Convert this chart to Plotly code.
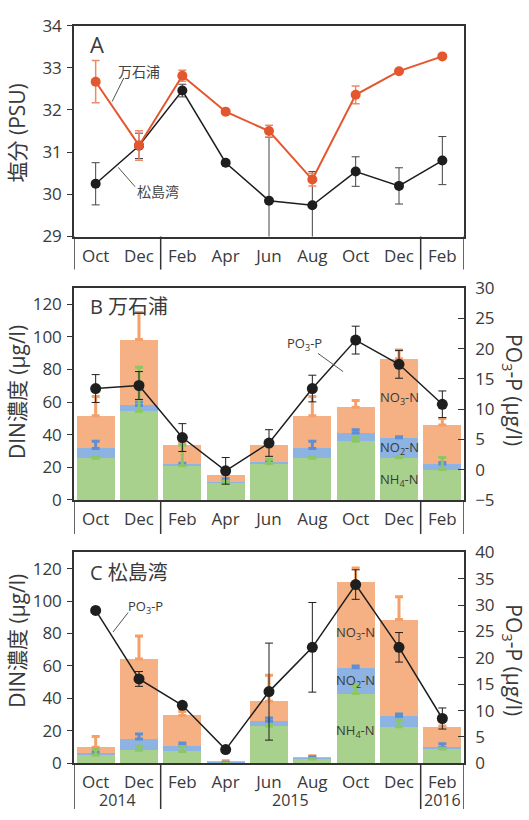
import plotly.graph_objects as go

# ---------------- data ----------------
months = ["Oct", "Dec", "Feb", "Apr", "Jun", "Aug", "Oct", "Dec", "Feb"]
years = ["2014", "2015", "2016"]
year_centers = [0.5, 4.5, 8.0]
xpos = list(range(len(months)))

# Panel A: salinity (PSU)
sal_mangoku = [32.67, 31.16, 32.81, 31.96, 31.50, 30.35, 32.36, 32.92, 33.27]
sal_mangoku_err = [0.50, 0.35, 0.13, 0.05, 0.14, 0.15, 0.21, 0.04, 0.04]
sal_matsu = [30.25, 31.15, 32.46, 30.75, 29.85, 29.74, 30.54, 30.20, 30.80]
sal_matsu_err = [0.50, 0.30, 0.15, 0.04, 1.50, 0.80, 0.35, 0.43, 0.57]

# Panel B: 万石浦 DIN components (ug/l) and PO3-P (ug/l)
b_nh4 = [25.6, 54.4, 21.0, 10.6, 22.4, 25.6, 36.0, 25.8, 18.6]
b_no2 = [6.0, 3.6, 1.0, 0.4, 1.0, 6.0, 5.0, 12.4, 3.4]
b_no3 = [20.0, 40.4, 12.0, 4.4, 10.2, 20.0, 15.8, 48.4, 24.0]
b_nh4_err = [0.8, 27.0, 12.6, 0.8, 2.6, 0.8, 2.5, 0.8, 7.4]
b_no2_err = [4.4, 2.0, 0.5, 2.0, 0.5, 4.4, 2.0, 0.6, 1.0]
b_no3_err = [11.8, 16.6, 1.0, 0.5, 0.5, 11.8, 4.2, 5.4, 4.0]
b_po3 = [13.4, 13.9, 5.3, -0.2, 4.4, 13.4, 21.4, 17.4, 10.8]
b_po3_err = [2.3, 2.3, 2.3, 2.2, 2.2, 2.2, 2.3, 2.3, 2.2]

# Panel C: 松島湾 DIN components (ug/l) and PO3-P (ug/l)
c_nh4 = [5.2, 8.0, 7.3, 0.1, 23.0, 2.6, 43.0, 22.5, 8.8]
c_no2 = [1.2, 7.0, 3.5, 0.5, 3.0, 0.6, 15.9, 6.4, 1.0]
c_no3 = [3.5, 49.3, 18.7, 0.2, 12.2, 0.3, 52.7, 59.7, 12.7]
c_nh4_err = [3.8, 2.5, 3.0, 0.0, 0.5, 0.2, 5.0, 4.0, 0.5]
c_no2_err = [0.5, 3.0, 1.7, 0.1, 2.0, 0.8, 1.1, 1.5, 2.2]
c_no3_err = [6.6, 14.2, 2.5, 0.8, 16.1, 1.2, 8.8, 14.1, 0.5]
c_po3 = [29.0, 16.0, 11.0, 2.6, 13.6, 22.0, 33.9, 22.0, 8.5]
c_po3_err = [0.3, 1.4, 0.5, 0.5, 9.2, 8.5, 2.8, 2.8, 2.0]

# ---------------- style ----------------
W, H = 529, 820
FONT = "Open Sans, Noto Sans CJK JP, sans-serif"
AX = "#333333"
TXT = "#3a3a3a"
C_ORANGE_LINE = "#E4572E"
C_ORANGE_ERR = "#EE8A66"
C_BLACK = "#1e1e1e"
C_NH4 = "#A9D18E"
C_NO2 = "#8DB3E2"
C_NO3 = "#F5B183"
C_NH4_ERR = "#8CC665"
C_NO2_ERR = "#5E8FD4"
C_NO3_ERR = "#F5A06A"

X0, X1 = 74, 464  # plot area left/right (px)
PANELS = {"A": (14, 231, 265), "B": (284, 502, 537), "C": (556, 773, 820)}


def fy(p):
    return 1 - p / H


def fx(p):
    return p / W


fig = go.Figure()

# ---------------- panel A ----------------
fig.add_trace(go.Scatter(
    x=xpos, y=sal_matsu, mode="lines+markers", xaxis="x", yaxis="y",
    line=dict(color=C_BLACK, width=1.5),
    marker=dict(color=C_BLACK, size=10),
    error_y=dict(type="data", array=sal_matsu_err, color="#444444",
                 thickness=1, width=4),
    showlegend=False))
fig.add_trace(go.Scatter(
    x=xpos, y=sal_mangoku, mode="lines+markers", xaxis="x", yaxis="y",
    line=dict(color=C_ORANGE_LINE, width=2),
    marker=dict(color=C_ORANGE_LINE, size=10),
    error_y=dict(type="data", array=sal_mangoku_err, color=C_ORANGE_ERR,
                 thickness=1.5, width=4),
    showlegend=False))


# ---------------- panels B and C ----------------
def add_din(xa, ya, ya2, nh4, no2, no3, nh4_e, no2_e, no3_e, po3, po3_e):
    for vals, col in ((nh4, C_NH4), (no2, C_NO2), (no3, C_NO3)):
        fig.add_trace(go.Bar(x=xpos, y=vals, xaxis=xa, yaxis=ya,
                             marker=dict(color=col, line=dict(width=0)),
                             width=0.88, showlegend=False))
    # upward error bars drawn above the stacks
    tops_nh4 = list(nh4)
    tops_no2 = [a + b for a, b in zip(nh4, no2)]
    tops_no3 = [a + b + c for a, b, c in zip(nh4, no2, no3)]
    for tops, errs, col in ((tops_no3, no3_e, C_NO3_ERR),
                            (tops_no2, no2_e, C_NO2_ERR),
                            (tops_nh4, nh4_e, C_NH4_ERR)):
        fig.add_trace(go.Scatter(
            x=xpos, y=tops, mode="markers", xaxis=xa, yaxis=ya,
            marker=dict(size=1, opacity=0),
            error_y=dict(type="data", symmetric=False, array=errs,
                         arrayminus=[0] * len(errs), color=col,
                         thickness=3, width=4),
            showlegend=False, hoverinfo="skip"))
    fig.add_trace(go.Scatter(
        x=xpos, y=po3, mode="lines+markers", xaxis=xa, yaxis=ya2,
        line=dict(color=C_BLACK, width=1.5),
        marker=dict(color=C_BLACK, size=11),
        error_y=dict(type="data", array=po3_e, color=C_BLACK,
                     thickness=1, width=4),
        showlegend=False))


add_din("x2", "y2", "y3", b_nh4, b_no2, b_no3, b_nh4_err, b_no2_err,
        b_no3_err, b_po3, b_po3_err)
add_din("x3", "y4", "y5", c_nh4, c_no2, c_no3, c_nh4_err, c_no2_err,
        c_no3_err, c_po3, c_po3_err)

# ---------------- axes ----------------
xdom = [fx(X0), fx(X1)]
tickfont = dict(family=FONT, size=17, color=TXT)


def xaxis(anchor):
    return dict(domain=xdom, anchor=anchor, range=[-0.5, 8.5],
                tickmode="array", tickvals=xpos, ticktext=months,
                tickfont=tickfont, ticks="", showgrid=False, zeroline=False,
                showline=True, mirror=True, linecolor=AX, linewidth=1.5,
                ticklabelstandoff=3, fixedrange=True)


def yleft(panel, rng, vals, anchor):
    top, bot, _ = PANELS[panel]
    return dict(domain=[fy(bot), fy(top)], anchor=anchor, range=rng,
                tickmode="array", tickvals=vals, tickfont=tickfont,
                ticks="outside", ticklen=5, tickcolor=AX, tickwidth=1.2,
                showgrid=False, zeroline=False, showline=True, mirror=True,
                linecolor=AX, linewidth=1.5, ticklabelstandoff=2)


def yright(over, anchor, rng, vals):
    return dict(overlaying=over, anchor=anchor, side="right", range=rng,
                tickmode="array", tickvals=vals, tickfont=tickfont,
                ticks="inside", ticklen=6, tickcolor=AX, tickwidth=1.2,
                showgrid=False, zeroline=False, showline=True,
                linecolor=AX, linewidth=1.5, ticklabelstandoff=6)


fig.update_layout(
    width=W, height=H, margin=dict(l=0, r=0, t=0, b=0),
    paper_bgcolor="white", plot_bgcolor="white",
    barmode="stack", bargap=0.12, showlegend=False,
    font=dict(family=FONT, color=TXT),
    xaxis=xaxis("y"), xaxis2=xaxis("y2"), xaxis3=xaxis("y4"),
    yaxis=yleft("A", [29, 34], [29, 30, 31, 32, 33, 34], "x"),
    yaxis2=yleft("B", [0, 130], [0, 20, 40, 60, 80, 100, 120], "x2"),
    yaxis3=yright("y2", "x2", [-5, 30], [-5, 0, 5, 10, 15, 20, 25, 30]),
    yaxis4=yleft("C", [0, 130], [0, 20, 40, 60, 80, 100, 120], "x3"),
    yaxis5=yright("y4", "x3", [0, 40], [0, 5, 10, 15, 20, 25, 30, 35, 40]),
)

# ---------------- category boxes under each panel ----------------
shapes = []
for (panel, xref) in (("A", "x"), ("B", "x2"), ("C", "x3")):
    top, bot, box = PANELS[panel]
    for xs in (-0.5, 1.5, 7.5, 8.5):
        shapes.append(dict(type="line", xref=xref, yref="paper",
                           x0=xs, x1=xs, y0=fy(bot), y1=fy(box),
                           line=dict(color=AX, width=1.5)))

# leader lines
lead = dict(color="#555555", width=1)
shapes += [
    dict(type="line", xref="x", yref="y", x0=0.38, y0=32.2, x1=0.65, y1=32.76, line=lead),
    dict(type="line", xref="x", yref="y", x0=0.52, y0=30.64, x1=0.91, y1=30.18, line=lead),
    dict(type="line", xref="x2", yref="y3", x0=5.13, y0=19.2, x1=5.71, y1=16.2, line=lead),
    dict(type="line", xref="x3", yref="y5", x0=0.75, y0=28.6, x1=0.40, y1=24.9, line=lead),
]
fig.update_layout(shapes=shapes)

# ---------------- text ----------------
ann = []


def text(x, y, s, size, xref="paper", yref="paper", xanchor="center",
         angle=0, color=TXT):
    ann.append(dict(x=x, y=y, xref=xref, yref=yref, text=s, showarrow=False,
                    xanchor=xanchor, yanchor="middle", textangle=angle,
                    font=dict(family=FONT, size=size, color=color)))


# axis titles
text(fx(17), fy(125), "塩分 (PSU)", 21, angle=-90)
text(fx(17), fy(391), "DIN濃度 (μg/l)", 21, angle=-90)
text(fx(17), fy(647), "DIN濃度 (μg/l)", 21, angle=-90)
text(fx(513), fy(389), "PO<sub>3</sub>-P (μg/l)", 21, angle=90)
text(fx(513), fy(667), "PO<sub>3</sub>-P (μg/l)", 21, angle=90)

# panel letters and site names
text(fx(88), fy(33), "A", 22, xanchor="left")
text(fx(88), fy(303), "B 万石浦", 20, xanchor="left")
text(fx(88), fy(577), "C 松島湾", 20, xanchor="left")

# series labels
text(1.0, 32.92, "万石浦", 14, xref="x", yref="y", color="#444444")
text(1.44, 30.06, "松島湾", 14, xref="x", yref="y", color="#444444")
text(4.83, 20.7, "PO<sub>3</sub>-P", 13, xref="x2", yref="y3")
text(1.16, 29.7, "PO<sub>3</sub>-P", 13, xref="x3", yref="y5")

# component labels
for lbl, yb, yc in (("NO<sub>3</sub>-N", 62.7, 80.6),
                    ("NO<sub>2</sub>-N", 32.0, 51.0),
                    ("NH<sub>4</sub>-N", 12.0, 20.0)):
    text(7, yb, lbl, 13, xref="x2", yref="y2")
    text(6, yc, lbl, 13, xref="x3", yref="y4")

# years
for yr, xc in zip(years, year_centers):
    text(xc, fy(811), yr, 16, xref="x3")

fig.update_layout(annotations=ann)

fig.write_html("out.html")
